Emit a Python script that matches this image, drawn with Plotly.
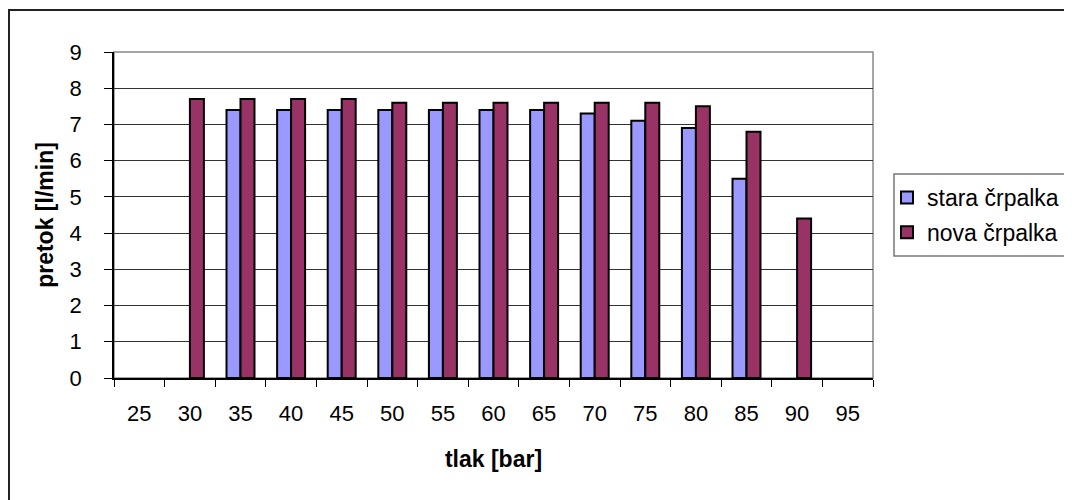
import plotly.graph_objects as go

tlak = ["25", "30", "35", "40", "45", "50", "55", "60", "65", "70", "75", "80", "85", "90", "95"]
stara = [None, None, 7.4, 7.4, 7.4, 7.4, 7.4, 7.4, 7.4, 7.3, 7.1, 6.9, 5.5, None, None]
nova = [None, 7.7, 7.7, 7.7, 7.7, 7.6, 7.6, 7.6, 7.6, 7.6, 7.6, 7.5, 6.8, 4.4, None]
y_ticks = list(range(0, 10))

OFF = 8  # browser body margin
W, H = 1072 - OFF, 500 - OFF
# plot area in page pixels
PL, PR, PT, PB = 114, 873, 52, 378
L, R, T, B = PL - OFF, PR - OFF, PT - OFF, PB - OFF


def px(x):  # page pixel -> paper
    return (x - PL) / (PR - PL)


def py(y):
    return (PB - y) / (PB - PT)


fig = go.Figure()
fig.add_trace(go.Bar(x=tlak, y=stara, name="stara črpalka", legendgroup="a",
                     marker=dict(color="#9999FF", line=dict(color="black", width=2))))
fig.add_trace(go.Bar(x=tlak, y=nova, name="nova črpalka", legendgroup="b",
                     marker=dict(color="#993366", line=dict(color="black", width=2))))

font = "Liberation Sans, Arial, sans-serif"

fig.update_layout(
    width=W, height=H,
    margin=dict(l=L, r=W - R, t=T, b=H - B, autoexpand=False),
    paper_bgcolor="white", plot_bgcolor="white",
    barmode="group", bargap=0.447, bargroupgap=0,
    font=dict(family=font, size=22, color="black"),
    showlegend=True,
    legend=dict(x=px(887), y=py(176), xanchor="left", yanchor="top",
                bgcolor="rgba(0,0,0,0)", borderwidth=0,
                font=dict(size=23), traceorder="grouped", tracegroupgap=2),
    shapes=[
        dict(type="rect", xref="paper", yref="paper", x0=0, x1=1, y0=0, y1=1,
             line=dict(color="#888888", width=1.5), layer="below"),
        dict(type="rect", xref="paper", yref="paper", x0=px(9), x1=px(1100),
             y0=py(530), y1=py(10), line=dict(color="#222222", width=2), layer="below"),
        dict(type="rect", xref="paper", yref="paper", x0=px(894), x1=px(1100),
             y0=py(256), y1=py(174), line=dict(color="#777777", width=1.5), layer="below"),
    ],
)

fig.update_xaxes(
    type="category", categoryorder="array", categoryarray=tlak,
    tickson="boundaries", ticks="outside", ticklen=7, tickwidth=1, tickcolor="black",
    showline=True, linecolor="black", linewidth=1.5, showgrid=False,
    ticklabelstandoff=15,
    title=dict(text="<b>tlak [bar]</b>", font=dict(size=23), standoff=26),
)
fig.update_yaxes(
    range=[0, 9], tickvals=y_ticks, ticks="outside", ticklen=8, tickwidth=1, tickcolor="black",
    showline=True, linecolor="black", linewidth=1.5,
    showgrid=True, gridcolor="#333333", gridwidth=1, zeroline=False,
    ticklabelstandoff=18,
    title=dict(text="<b>pretok [l/min]</b>", font=dict(size=23), standoff=10),
)

fig.write_html("out.html")
